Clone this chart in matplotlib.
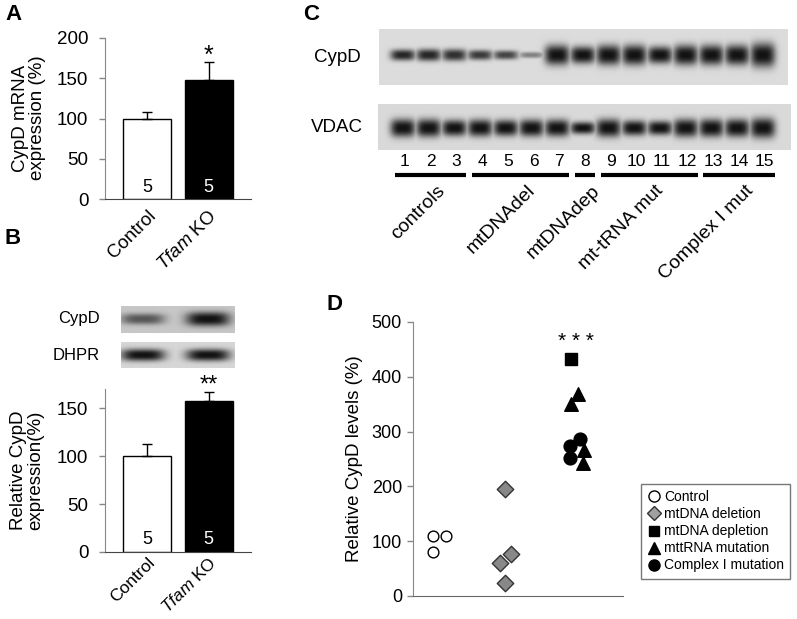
import numpy as np
import matplotlib
matplotlib.use("Agg")
import matplotlib.pyplot as plt
from matplotlib.lines import Line2D

plt.rcParams['font.family'] = ['Liberation Sans', 'DejaVu Sans']
plt.rcParams['mathtext.fontset'] = 'custom'
plt.rcParams['mathtext.rm'] = 'Liberation Sans'
plt.rcParams['mathtext.it'] = 'Liberation Sans:italic'

# === Data ===
groups_ab = ['Control', r'$\mathit{Tfam}$ KO']
n_ab = [5, 5]

mrna_mean = [100, 148]
mrna_err = [8, 22]

prot_mean = [100, 157]
prot_err = [13, 10]

# blot B: band darkness / half-thickness per lane
b_cypd_dark = [0.62, 1.0]
b_cypd_thick = [5.5, 7]
b_dhpr_dark = [1.0, 1.0]
b_dhpr_thick = [6, 6]

# blot C: 15 lanes
lanes = list(range(1, 16))
c_cypd_dark = [0.9, 0.9, 0.85, 0.8, 0.75, 0.45, 1.0, 1.0, 1.0, 1.0, 1.0, 1.0, 1.0, 1.0, 1.0]
c_cypd_thick = [5.5, 6, 6, 5, 4.5, 3, 10, 8.5, 10, 10, 8.5, 10, 10, 10, 12]
c_vdac_dark = [1.0] * 15
c_vdac_thick = [9, 9, 8, 8.5, 8, 8.5, 8.5, 6, 9, 7.5, 7, 9, 9, 9, 10]
c_groups = ['controls', 'mtDNAdel', 'mtDNAdep', 'mt-tRNA mut', 'Complex I mut']
c_group_start = [1, 4, 8, 9, 13]
c_group_end = [3, 7, 8, 12, 15]

# panel D
ctrl_grp = [1, 1, 1]
ctrl_off = [-0.09, -0.09, 0.10]
ctrl_val = [109, 81, 109]
del_grp = [2, 2, 2, 2]
del_off = [-0.04, -0.11, 0.05, -0.04]
del_val = [196, 61, 76, 23]
dep_grp = [3]
dep_off = [-0.08]
dep_val = [432]
trna_grp = [3, 3, 3, 3]
trna_off = [0.02, -0.08, 0.11, 0.09]
trna_val = [369, 351, 266, 243]
cx1_grp = [3, 3, 3]
cx1_off = [0.05, -0.09, -0.09]
cx1_val = [287, 273, 251]

W, H = 797, 619
fig = plt.figure(figsize=(W / 100, H / 100), dpi=100)
fig.patch.set_facecolor('white')


def px_axes(x0, y0, x1, y1):
    return fig.add_axes([x0 / W, 1 - y1 / H, (x1 - x0) / W, (y1 - y0) / H])


def draw_blot(ax, centers, dark, thick, bg, w, h, yc, bandw):
    X, Y = np.meshgrid(np.arange(w) + 0.5, np.arange(h) + 0.5)
    d = np.zeros_like(X)
    for xc, a, t in zip(centers, dark, thick):
        g = a * np.exp(-np.abs((X - xc) / bandw) ** 3.5) * np.exp(-np.abs((Y - yc) / t) ** 2.5)
        d = np.maximum(d, g)
    img = bg - (bg - 0.07) * np.clip(d, 0, 1)
    ax.imshow(img, cmap='gray', vmin=0, vmax=1, extent=(0, w, h, 0),
              aspect='auto', interpolation='bilinear')
    ax.set_axis_off()


def bar_panel(ax, means, errs, ylim, yticks, xfs=13.5, xpad=6):
    x = np.arange(len(means))
    ax.bar(x, means, width=0.78, color=['white', 'black'], edgecolor='black', linewidth=1)
    ax.errorbar(x, means, yerr=[[0, 0], errs], fmt='none', ecolor='black',
                elinewidth=1, capsize=3.5, capthick=1)
    for xi, n, c in zip(x, n_ab, ['black', 'white']):
        ax.text(xi, 4, str(n), ha='center', va='bottom', color=c, fontsize=13)
    ax.set_xlim(-0.683, 1.69)
    ax.set_ylim(*ylim)
    ax.set_yticks(yticks)
    ax.set_xticks(x)
    ax.set_xticklabels(groups_ab, rotation=45, ha='right', rotation_mode='anchor', fontsize=xfs)
    ax.tick_params(axis='x', length=0, pad=xpad)
    ax.tick_params(axis='y', length=4, width=1, color='#888888', pad=8, labelsize=13.5)
    ax.spines['top'].set_visible(False)
    ax.spines['right'].set_visible(False)
    ax.spines['left'].set_color('#888888')
    ax.spines['bottom'].set_color('#444444')


# === Panel A ===
axA = px_axes(105, 38, 251, 199)
bar_panel(axA, mrna_mean, mrna_err, (0, 200), [0, 50, 100, 150, 200])
axA.text(1, 178, '*', ha='center', va='center', fontsize=18, clip_on=False)
fig.text(29 / W, 1 - 118 / H, 'CypD mRNA\nexpression (%)', rotation=90,
         ha='center', va='center', fontsize=13.5, linespacing=1.05)

# === Panel B ===
axB = px_axes(105, 389, 251, 552)
bar_panel(axB, prot_mean, prot_err, (0, 170), [0, 50, 100, 150], xfs=12.5, xpad=2)
axB.text(1, 174, '**', ha='center', va='center', fontsize=17, clip_on=False)
fig.text(27 / W, 1 - 470 / H, 'Relative CypD\nexpression(%)', rotation=90,
         ha='center', va='center', fontsize=13.5, linespacing=1.05)

axb1 = px_axes(121, 306, 235, 333)
draw_blot(axb1, [22, 87], b_cypd_dark, b_cypd_thick, 0.78, 114, 27, 13, 22)
axb2 = px_axes(121, 342, 235, 368)
draw_blot(axb2, [22, 87], b_dhpr_dark, b_dhpr_thick, 0.84, 114, 26, 13, 22)

# === Panel C ===
lane_x = [405 + (i - 1) * 25.7 for i in lanes]
axc1 = px_axes(379, 29, 788, 85)
draw_blot(axc1, [lx - 381 for lx in lane_x], c_cypd_dark, c_cypd_thick, 0.86, 409, 56, 26, 12.5)
axc2 = px_axes(378, 104, 791, 150)
draw_blot(axc2, [lx - 380 for lx in lane_x], c_vdac_dark, c_vdac_thick, 0.85, 413, 46, 24, 12.5)

# overlay in pixel coordinates for labels
ov = fig.add_axes([0, 0, 1, 1])
ov.set_xlim(0, W)
ov.set_ylim(H, 0)
ov.set_axis_off()
ov.patch.set_visible(False)

for lx, ln in zip(lane_x, lanes):
    ov.text(lx, 162, str(ln), ha='center', va='center', fontsize=12.5)
for name, s, e in zip(c_groups, c_group_start, c_group_end):
    x0 = lane_x[s - 1] - 10
    x1 = lane_x[e - 1] + 10
    ov.plot([x0, x1], [175, 175], color='black', lw=3, solid_capstyle='butt')
    ov.text((x0 + x1) / 2 + 6, 182, name, rotation=45, ha='right', va='top',
            rotation_mode='anchor', fontsize=14)
ov.text(337, 57, 'CypD', ha='center', va='center', fontsize=13.5)
ov.text(337, 128, 'VDAC', ha='center', va='center', fontsize=13.5)
ov.text(100, 319, 'CypD', ha='right', va='center', fontsize=12)
ov.text(100, 355, 'DHPR', ha='right', va='center', fontsize=12)

# panel letters
for lab, lx, ly in [('A', 5, 14), ('B', 5, 239), ('C', 303, 14), ('D', 327, 304)]:
    ov.text(lx, ly, lab, ha='left', va='center', fontsize=16, fontweight='bold')

# === Panel D ===
axD = px_axes(413, 322, 623, 596)
axD.scatter(np.add(ctrl_grp, ctrl_off), ctrl_val, marker='o', s=60, facecolor='white',
            edgecolor='black', linewidth=1, zorder=3)
axD.scatter(np.add(del_grp, del_off), del_val, marker='D', s=70, facecolor='#888888',
            edgecolor='#333333', linewidth=1, zorder=3)
axD.scatter(np.add(dep_grp, dep_off), dep_val, marker='s', s=75, color='black', zorder=3)
axD.scatter(np.add(trna_grp, trna_off), trna_val, marker='^', s=95, color='black', zorder=3)
axD.scatter(np.add(cx1_grp, cx1_off), cx1_val, marker='o', s=85, color='black', zorder=3)
axD.text(3, 465, '* * *', ha='center', va='center', fontsize=15)
axD.set_xlim(0.62, 3.68)
axD.set_ylim(0, 500)
axD.set_yticks([0, 100, 200, 300, 400, 500])
axD.set_xticks([])
axD.tick_params(axis='y', length=4, width=1, color='#888888', pad=4, labelsize=13)
axD.spines['top'].set_visible(False)
axD.spines['right'].set_visible(False)
axD.spines['left'].set_color('#888888')
axD.spines['bottom'].set_color('#666666')
axD.set_ylabel('Relative CypD levels (%)', fontsize=13.5, labelpad=6)

handles = [
    Line2D([], [], ls='none', marker='o', ms=8, mfc='white', mec='black'),
    Line2D([], [], ls='none', marker='D', ms=7, mfc='#a0a0a0', mec='#333333'),
    Line2D([], [], ls='none', marker='s', ms=7, color='black'),
    Line2D([], [], ls='none', marker='^', ms=8, color='black'),
    Line2D([], [], ls='none', marker='o', ms=8, color='black'),
]
labels = ['Control', 'mtDNA deletion', 'mtDNA depletion', 'mttRNA mutation', 'Complex I mutation']
leg = fig.legend(handles, labels, loc='upper left', bbox_to_anchor=(641 / W, 1 - 484 / H),
                 fontsize=10, frameon=True, fancybox=False, edgecolor='#555555',
                 handlelength=0.9, handletextpad=0.3, labelspacing=0.22, borderpad=0.45,
                 borderaxespad=0)
leg.get_frame().set_linewidth(1)

fig.savefig('out.png', dpi=100, facecolor='white')
